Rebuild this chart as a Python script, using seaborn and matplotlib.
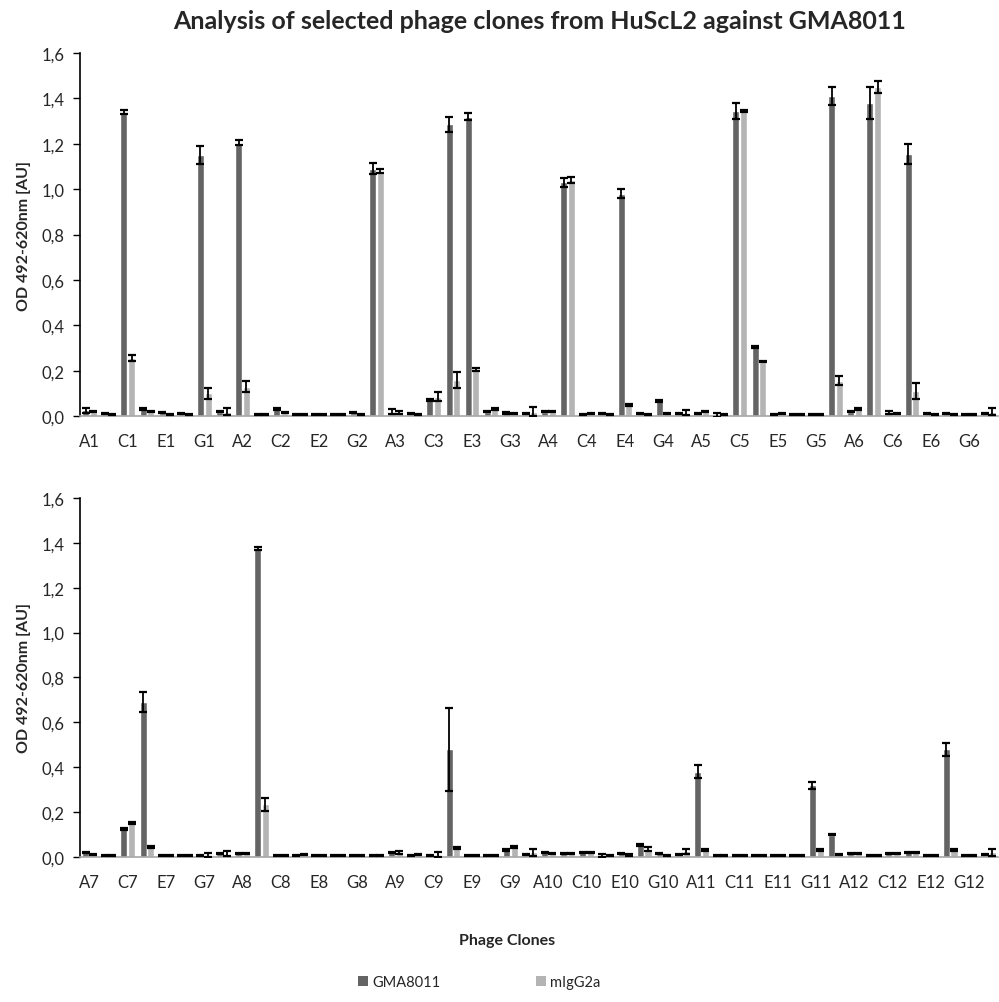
import pandas as pd
import matplotlib
matplotlib.use('Agg')
import matplotlib.pyplot as plt
import seaborn as sns
from matplotlib.ticker import FuncFormatter
from matplotlib.patches import Patch

ROWS = ['A', 'B', 'C', 'D', 'E', 'F', 'G', 'H']
wells_top = [r + str(c) for c in range(1, 7) for r in ROWS]
wells_bottom = [r + str(c) for c in range(7, 13) for r in ROWS]

gma_top = [0.025, 0.010, 1.340, 0.030, 0.015, 0.012, 1.150, 0.020,
           1.205, 0.005, 0.030, 0.005, 0.005, 0.005, 0.015, 1.090,
           0.020, 0.010, 0.070, 1.285, 1.320, 0.020, 0.015, 0.010,
           0.020, 1.030, 0.005, 0.010, 0.980, 0.010, 0.068, 0.010,
           0.010, 0.005, 1.345, 0.305, 0.005, 0.005, 0.005, 1.410,
           0.020, 1.380, 0.015, 1.155, 0.010, 0.010, 0.005, 0.010]
igg_top = [0.020, 0.008, 0.255, 0.020, 0.008, 0.007, 0.100, 0.020,
           0.130, 0.005, 0.015, 0.005, 0.005, 0.005, 0.008, 1.080,
           0.015, 0.005, 0.085, 0.160, 0.205, 0.030, 0.010, 0.020,
           0.020, 1.040, 0.010, 0.005, 0.050, 0.005, 0.010, 0.015,
           0.020, 0.005, 1.345, 0.240, 0.010, 0.005, 0.005, 0.155,
           0.030, 1.450, 0.010, 0.110, 0.005, 0.005, 0.005, 0.020]
gma_top_err = [0.010, 0.003, 0.008, 0.004, 0.003, 0.003, 0.040, 0.004,
               0.010, 0.002, 0.004, 0.002, 0.002, 0.002, 0.003, 0.025,
               0.010, 0.003, 0.005, 0.035, 0.015, 0.004, 0.005, 0.003,
               0.004, 0.020, 0.002, 0.003, 0.020, 0.003, 0.004, 0.003,
               0.003, 0.008, 0.035, 0.004, 0.002, 0.002, 0.002, 0.040,
               0.004, 0.070, 0.008, 0.045, 0.003, 0.003, 0.002, 0.003]
igg_top_err = [0.004, 0.002, 0.012, 0.003, 0.002, 0.002, 0.025, 0.015,
               0.025, 0.002, 0.003, 0.002, 0.002, 0.002, 0.002, 0.010,
               0.008, 0.002, 0.020, 0.035, 0.008, 0.004, 0.003, 0.020,
               0.004, 0.015, 0.003, 0.002, 0.004, 0.002, 0.003, 0.010,
               0.004, 0.002, 0.005, 0.004, 0.003, 0.002, 0.002, 0.020,
               0.004, 0.025, 0.003, 0.035, 0.002, 0.002, 0.002, 0.015]

gma_bottom = [0.020, 0.005, 0.125, 0.690, 0.005, 0.005, 0.005, 0.015,
              0.015, 1.375, 0.005, 0.005, 0.005, 0.005, 0.005, 0.005,
              0.020, 0.005, 0.005, 0.480, 0.005, 0.005, 0.030, 0.010,
              0.020, 0.015, 0.020, 0.005, 0.015, 0.055, 0.015, 0.010,
              0.380, 0.005, 0.005, 0.005, 0.005, 0.005, 0.320, 0.100,
              0.015, 0.005, 0.015, 0.020, 0.005, 0.480, 0.005, 0.010]
igg_bottom = [0.010, 0.005, 0.150, 0.045, 0.005, 0.005, 0.010, 0.015,
              0.015, 0.235, 0.005, 0.010, 0.005, 0.005, 0.005, 0.005,
              0.020, 0.010, 0.010, 0.040, 0.005, 0.005, 0.045, 0.020,
              0.015, 0.015, 0.020, 0.005, 0.008, 0.035, 0.008, 0.025,
              0.030, 0.005, 0.005, 0.005, 0.005, 0.005, 0.030, 0.010,
              0.015, 0.005, 0.015, 0.020, 0.005, 0.030, 0.005, 0.020]
gma_bottom_err = [0.004, 0.002, 0.005, 0.045, 0.002, 0.002, 0.002, 0.003,
                  0.003, 0.005, 0.002, 0.002, 0.002, 0.002, 0.002, 0.002,
                  0.004, 0.002, 0.002, 0.185, 0.002, 0.002, 0.004, 0.003,
                  0.004, 0.003, 0.004, 0.006, 0.003, 0.004, 0.003, 0.003,
                  0.030, 0.002, 0.002, 0.002, 0.002, 0.002, 0.015, 0.004,
                  0.003, 0.002, 0.003, 0.004, 0.002, 0.030, 0.002, 0.003]
igg_bottom_err = [0.003, 0.002, 0.004, 0.004, 0.002, 0.002, 0.008, 0.010,
                  0.003, 0.030, 0.002, 0.003, 0.002, 0.002, 0.002, 0.002,
                  0.008, 0.003, 0.010, 0.004, 0.002, 0.002, 0.004, 0.015,
                  0.003, 0.003, 0.004, 0.002, 0.003, 0.010, 0.002, 0.010,
                  0.004, 0.002, 0.002, 0.002, 0.002, 0.002, 0.004, 0.003,
                  0.003, 0.002, 0.003, 0.004, 0.002, 0.004, 0.002, 0.015]

SERIES = ['GMA8011', 'mIgG2a']
COLORS = ['#646464', '#b4b4b4']

sns.set_style('white')
plt.rcParams['font.family'] = ['Lato', 'DejaVu Sans']

fig = plt.figure(figsize=(9.99, 10.03), dpi=100)
ax_top = fig.add_axes([0.080, 0.5842, 0.919, 0.3620])
ax_bot = fig.add_axes([0.080, 0.1446, 0.919, 0.3579])


def draw_panel(ax, wells, gma, igg, gma_err, igg_err):
    df = pd.DataFrame({
        'well': wells * 2,
        'series': [SERIES[0]] * len(wells) + [SERIES[1]] * len(wells),
        'od': gma + igg,
    })
    sns.barplot(data=df, x='well', y='od', hue='series', order=wells,
                hue_order=SERIES, palette=COLORS, errorbar=None,
                width=0.8, gap=0.08, legend=False, ax=ax)
    # error bars on top of each bar container
    for cont, errs in zip(ax.containers, [gma_err, igg_err]):
        xs = [p.get_x() + p.get_width() / 2 for p in cont.patches]
        ys = [p.get_height() for p in cont.patches]
        ax.errorbar(xs, ys, yerr=errs, fmt='none', ecolor='black',
                    elinewidth=1.3, capsize=3, capthick=1.6, zorder=3)
    ax.set_ylim(0, 1.6)
    ax.set_xlim(-0.5, len(wells) - 0.5)
    ax.set_yticks([0, 0.2, 0.4, 0.6, 0.8, 1.0, 1.2, 1.4, 1.6])
    ax.yaxis.set_major_formatter(FuncFormatter(lambda v, p: f'{v:.1f}'.replace('.', ',')))
    ax.set_xticks(range(0, len(wells), 2))
    ax.set_xticklabels(wells[::2])
    ax.set_xlabel('')
    ax.set_ylabel('OD 492-620nm [AU]', fontsize=11.5, fontweight='bold', labelpad=8)
    ax.tick_params(axis='y', direction='out', length=5, width=1, color='black',
                   labelsize=12, pad=6, left=True)
    ax.tick_params(axis='x', length=0, labelsize=12, pad=12)
    for s in ['top', 'right']:
        ax.spines[s].set_visible(False)
    ax.spines['left'].set_color('black')
    ax.spines['left'].set_linewidth(1.2)
    ax.spines['bottom'].set_color('#a6a6a6')
    ax.spines['bottom'].set_linewidth(1.2)


draw_panel(ax_top, wells_top, gma_top, igg_top, gma_top_err, igg_top_err)
draw_panel(ax_bot, wells_bottom, gma_bottom, igg_bottom, gma_bottom_err, igg_bottom_err)

fig.text(0.54, 0.979, 'Analysis of selected phage clones from HuScL2 against GMA8011',
         ha='center', va='center', fontsize=18, fontweight='bold')
fig.text(0.508, 0.062, 'Phage Clones', ha='center', va='center',
         fontsize=11.5, fontweight='bold')

handles = [Patch(facecolor=c, edgecolor='none') for c in COLORS]
fig.legend(handles, SERIES, loc='center', bbox_to_anchor=(0.48, 0.020), ncol=2,
           frameon=False, fontsize=10.5, handlelength=0.7, handleheight=0.7,
           handletextpad=0.3, columnspacing=6.5)

fig.savefig('out.png', dpi=100)
